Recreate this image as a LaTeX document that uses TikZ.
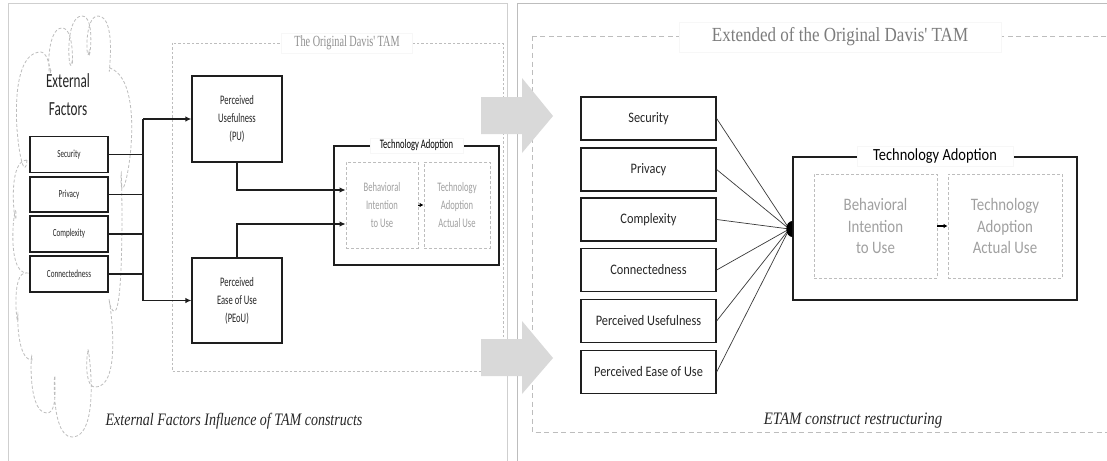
\documentclass[tikz,border=0pt]{standalone}
\usepackage{fontspec}
\usetikzlibrary{arrows.meta}
% condensed faces for the two panels
\newfontfamily\lsans[FakeStretch=0.66]{Carlito}
\newfontfamily\lserif[FakeStretch=0.66]{Liberation Serif}
\newfontfamily\lcap[FakeStretch=0.8]{Liberation Serif}
\newfontfamily\rsans[FakeStretch=0.85]{Carlito}
\newfontfamily\rserif[FakeStretch=0.85]{Liberation Serif}
\definecolor{boxline}{HTML}{1E1E1E}
\definecolor{textdark}{HTML}{262626}
\definecolor{softtext}{HTML}{A0A0A0}
\definecolor{titlegray}{HTML}{7C7C7C}
\definecolor{dashgray}{HTML}{BDBDBD}
\definecolor{arrowgray}{HTML}{D9D9D9}
\definecolor{framegray}{HTML}{CFCFCF}
\definecolor{spoke}{HTML}{3A3A3A}
\begin{document}
\begin{tikzpicture}[x=1pt,y=-1pt,
  lbox/.style={draw=boxline, line width=1.2pt, inner sep=0pt, text=textdark,
    font=\lsans\fontsize{10.8}{13}\selectfont},
  lbig/.style={draw=boxline, line width=1.2pt, inner sep=0pt, text=textdark, align=center,
    font=\lsans\fontsize{13}{18}\selectfont, minimum width=90pt},
  rbox/.style={draw=boxline, line width=1.3pt, inner sep=0pt, text=textdark,
    minimum width=135pt, minimum height=43pt, font=\rsans\fontsize{14.5}{17}\selectfont},
  softbox/.style={draw=dashgray, line width=0.8pt, dash pattern=on 3pt off 2pt,
    inner sep=0pt, text=softtext, align=center},
  frame/.style={draw=boxline, line width=1.2pt, inner sep=0pt},
  bandtitle/.style={fill=white, draw=gray!6, inner ysep=3pt},
  link/.style={line width=1.8pt, draw=boxline},
  tip/.style={-{Latex[length=6pt,width=5.5pt]}},
  smalltip/.style={-{Latex[length=4pt,width=4.5pt]}, line width=1pt},
  spokeline/.style={line width=0.7pt, draw=spoke},
  cloudline/.style={draw=dashgray, line width=0.8pt, dash pattern=on 3pt off 2pt},
]
\clip (0,0) rectangle (1107,460);
\fill[white] (0,0) rectangle (1107,460);

% panel frames
\draw[framegray, line width=0.9pt] (8,3) rectangle (507,470);
\draw[dashgray, line width=0.9pt] (517,3) rectangle (1120,470);

% ---------------- left panel ----------------
% dashed enclosure of the original model
\draw[dashgray, line width=0.8pt, dash pattern=on 2.5pt off 2pt] (172,43) rectangle (503,371);
\node[bandtitle, inner xsep=13pt, text=titlegray!85, font=\lserif\fontsize{15.5}{18}\selectfont]
  (tamtitle) at (347,43) {The Original\ Davis' TAM};

% cloud of external factors
\draw[cloudline]
  (27,160) to[out=-95,in=180] (41,52) to[out=0,in=-90] (51,70)
  to[out=-100,in=180] (62,28) to[out=0,in=-90] (72,62)
  to[out=-100,in=180] (82,16) to[out=0,in=-90] (89,52)
  to[out=-100,in=180] (98,16) to[out=0,in=-100] (110,68)
  to[out=-20,in=-90] (121,180) to[out=90,in=-70] (110,305)
  to[out=100,in=0] (95,387) to[out=180,in=90] (88,355)
  to[out=95,in=0] (72,437) to[out=180,in=90] (55,380)
  to[out=100,in=0] (47,413) to[out=180,in=90] (32,360)
  to[out=180,in=90] (18,318) to[out=-90,in=170] (27,273)
  to[out=180,in=90] (16,215) to[out=-90,in=180] (27,160);
\node[text=textdark, align=center, font=\lsans\fontsize{20}{28}\selectfont]
  (ext) at (68,94.5) {External\\Factors};

\node[lbox, minimum width=78pt, minimum height=36pt] (sec) at (69,154.5) {Security};
\node[lbox, minimum width=78pt, minimum height=35pt] (pri) at (69,194.5) {Privacy};
\node[lbox, minimum width=78pt, minimum height=36pt] (cpx) at (69,234) {Complexity};
\node[lbox, minimum width=78pt, minimum height=36pt] (con) at (69,274) {Connectedness};

\node[lbig, minimum height=86pt] (pu) at (237,119) {Perceived\\Usefulness\\(PU)};
\node[lbig, minimum height=85pt] (peou) at (237,300.5) {Perceived\\Ease of Use\\(PEoU)};

\coordinate (bustop) at (143,119);
\coordinate (busbot) at (143,300.5);
\draw[link] (bustop) -- (busbot);
\foreach \f in {sec,pri,cpx,con} \draw[link] (\f.east) -- (\f.east -| bustop);
\draw[link, tip] (bustop) -- (pu.west);
\draw[link, tip] (busbot) -- (peou.west);

\node[frame, minimum width=165pt, minimum height=119pt] (tal) at (416.5,205.5) {};
\node[bandtitle, inner xsep=9.5pt, inner ysep=2pt, text=black, font=\lsans\fontsize{13}{15}\selectfont]
  (taltitle) at (tal.north) {Technology Adoption};
\node[softbox, minimum width=72pt, minimum height=86pt, font=\lsans\fontsize{13}{18}\selectfont]
  (bil) at (382,205) {Behavioral\\Intention\\to Use};
\node[softbox, minimum width=66pt, minimum height=86pt, font=\lsans\fontsize{13}{18}\selectfont]
  (aul) at (457,205) {Technology\\Adoption\\Actual Use};
\draw[smalltip] (bil.east) -- (aul.west);

\draw[link, line width=1.4pt, tip] (pu.south) |- ([yshift=15pt]bil.west);
\draw[link, line width=1.4pt, tip] (peou.north) |- ([yshift=-19pt]bil.west);

\node[text=textdark, font=\lcap\itshape\fontsize{17.5}{20}\selectfont]
  (capl) at (234,421) {External Factors Influence of TAM constructs};

% ---------------- right panel ----------------
\draw[dashgray, line width=0.8pt, dash pattern=on 5pt off 3.5pt] (532,36) rectangle (1120,432);
\node[bandtitle, inner xsep=33pt, inner ysep=6pt, text=titlegray, font=\rserif\fontsize{20}{24}\selectfont]
  (etamtitle) at (840,37) {Extended of the Original\ Davis' TAM};

\node[rbox] (rs1) at (648.5,118.5) {Security};
\node[rbox] (rs2) at (648.5,169.5) {Privacy};
\node[rbox] (rs3) at (648.5,219.5) {Complexity};
\node[rbox] (rs4) at (648.5,270) {Connectedness};
\node[rbox] (rs5) at (648.5,321) {Perceived Usefulness};
\node[rbox] (rs6) at (648.5,372) {Perceived Ease of Use};

\node[frame, line width=1.4pt, minimum width=284pt, minimum height=143pt] (tar) at (935,228.5) {};
\node[bandtitle, inner xsep=16pt, inner ysep=3pt, text=black, font=\rsans\fontsize{17}{20}\selectfont]
  (tartitle) at (tar.north) {Technology Adoption};
\node[softbox, minimum width=123pt, minimum height=104pt, font=\rsans\fontsize{17.5}{21.5}\selectfont]
  (bir) at (875.5,226) {Behavioral\\Intention\\to Use};
\node[softbox, minimum width=114pt, minimum height=104pt, font=\rsans\fontsize{17.5}{21.5}\selectfont]
  (aur) at (1005,226) {Technology\\Adoption\\Actual Use};
\draw[smalltip, line width=1.2pt] (bir.east) -- (aur.west);

\coordinate (hub) at (tar.west |- 0,229);
\foreach \r in {rs1,rs2,rs3,rs4,rs5,rs6} \draw[spokeline] (\r.east) -- ([xshift=-3pt]hub);
\fill[black] (hub) ++(0,-8) arc[start angle=270, end angle=90, x radius=6, y radius=8] -- cycle;

\node[text=textdark, font=\rserif\itshape\fontsize{17.5}{20}\selectfont]
  (capr) at (853,421) {ETAM construct restructuring};

% transition arrows between the panels
\fill[arrowgray] (481,97) -- (522,97) -- (522,78) -- (553,116) -- (522,153) -- (522,134) -- (481,134) -- cycle;
\fill[arrowgray] (481,339) -- (522,339) -- (522,321) -- (553,358) -- (522,394) -- (522,376) -- (481,376) -- cycle;
\end{tikzpicture}
\end{document}
